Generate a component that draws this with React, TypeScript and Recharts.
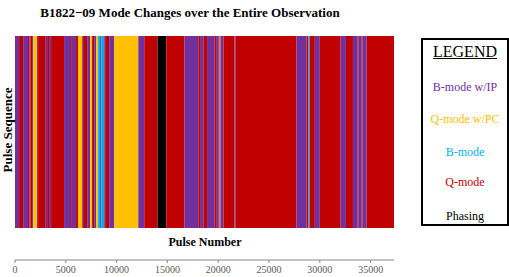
import { ComposedChart, XAxis, YAxis, ReferenceArea } from 'recharts';

// modes, in the order of the legend
const modeNames = ['B-mode w/IP', 'Q-mode w/PC', 'B-mode', 'Q-mode', 'Phasing'];
const modeColors = ['#7030A0', '#FFC000', '#00B0F0', '#C00000', '#000000'];

// segment boundaries in pulse number, and the mode of each segment (index into modeNames)
const boundaries = [
    0, 400, 800, 1280, 1410, 1510, 1680, 1780, 2170, 2270,
    2960, 3160, 3350, 3550, 4830, 5420, 5520, 6010, 6210, 6610,
    6700, 7100, 7400, 7590, 7790, 7990, 8180, 8380, 8480, 8780,
    8870, 9270, 9760, 12130, 12720, 14030, 14890, 16690, 18040, 18210,
    18540, 18900, 19620, 19790, 20050, 20140, 20210, 20510, 21590, 21690,
    27710, 28690, 28860, 28990, 29510, 30000, 32050, 32570, 33260, 33720,
    33820, 34110, 34210, 34610, 37300,
];
const segmentModes = [
    0, 3, 0, 3, 0, 3, 0, 1, 0, 3,
    0, 3, 0, 3, 0, 3, 0, 3, 1, 0,
    3, 0, 1, 3, 0, 1, 2, 0, 2, 0,
    3, 0, 1, 0, 3, 4, 3, 0, 3, 0,
    3, 0, 3, 0, 3, 1, 0, 3, 0, 3,
    0, 3, 2, 3, 0, 3, 0, 3, 0, 3,
    0, 3, 0, 3,
];

const xTicks = [0, 5000, 10000, 15000, 20000, 25000, 30000, 35000];
const xMax = 37300;

const serif = '"Liberation Serif", "DejaVu Serif", "Times New Roman", serif';

export default function App() {
    const segments = segmentModes.map((m, i) => ({
        start: boundaries[i],
        end: boundaries[i + 1],
        mode: m,
    }));

    return (
        <div style={{ position: 'absolute', left: 0, top: 0, width: 509, height: 277, background: '#fff', fontFamily: serif }}>
            <div style={{ position: 'absolute', left: 0, width: 380, top: 5, textAlign: 'center', fontSize: 13, lineHeight: '16px', fontWeight: 'bold', color: '#000' }}>
                B1822−09 Mode Changes over the Entire Observation
            </div>

            <ComposedChart width={509} height={277} data={segments} margin={{ top: 36, right: 115, left: 15, bottom: 0 }}>
                <XAxis
                    type="number"
                    dataKey="start"
                    domain={[0, xMax]}
                    ticks={xTicks}
                    allowDataOverflow
                    height={17}
                    tickSize={3}
                    tickMargin={3}
                    stroke="#868686"
                    tick={{ fill: '#595959', fontSize: 10, fontFamily: serif }}
                />
                <YAxis type="number" domain={[-0.1667, 1]} allowDataOverflow hide />
                {segments.map((s, i) => (
                    <ReferenceArea
                        key={i}
                        x1={s.start}
                        x2={s.end}
                        y1={0}
                        y2={1}
                        fill={modeColors[s.mode]}
                        fillOpacity={1}
                        stroke="none"
                        ifOverflow="visible"
                    />
                ))}
            </ComposedChart>

            <div style={{ position: 'absolute', left: 8, top: 130, transform: 'translate(-50%, -50%) rotate(-90deg)', whiteSpace: 'nowrap', fontSize: 13, fontWeight: 'bold' }}>
                Pulse Sequence
            </div>
            <div style={{ position: 'absolute', left: 205, top: 242, transform: 'translate(-50%, -50%)', whiteSpace: 'nowrap', fontSize: 12, fontWeight: 'bold' }}>
                Pulse Number
            </div>

            <div style={{ position: 'absolute', left: 421, top: 38, width: 84, height: 184, border: '2px solid #000', background: '#fff' }}>
                <div style={{ position: 'absolute', left: 0, right: 0, top: 2, textAlign: 'center', fontSize: 16, lineHeight: '20px', textDecoration: 'underline' }}>
                    LEGEND
                </div>
                {modeNames.map((name, i) => (
                    <div key={name} style={{ position: 'absolute', left: -4, right: -4, top: [39, 71, 104, 134, 168][i], textAlign: 'center', fontSize: 12, lineHeight: '16px', color: modeColors[i], whiteSpace: 'nowrap' }}>
                        {name}
                    </div>
                ))}
            </div>
        </div>
    );
}
